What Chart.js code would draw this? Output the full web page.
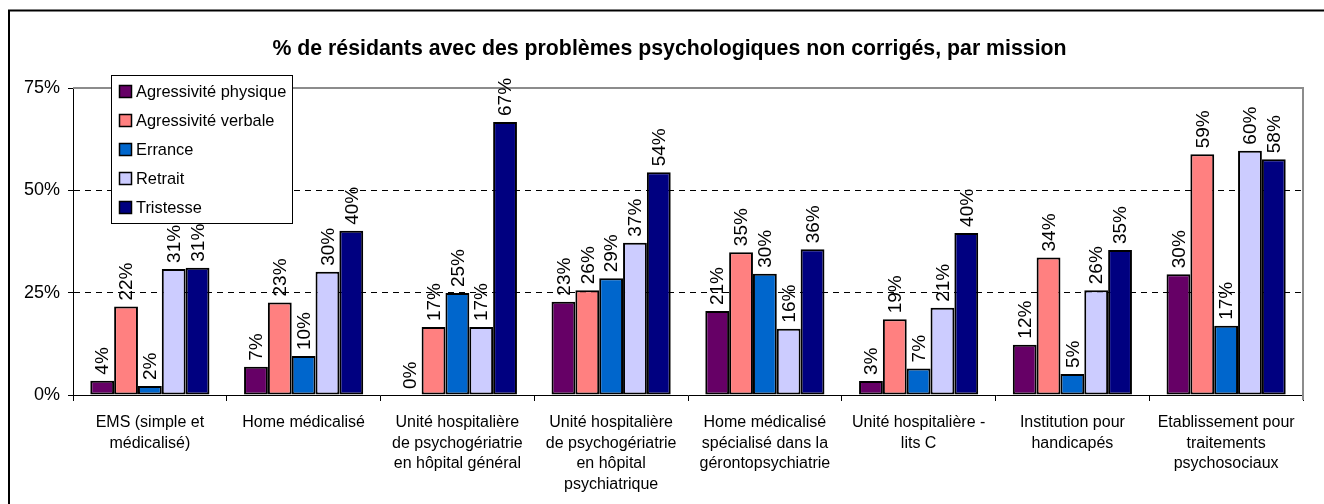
<!DOCTYPE html>
<html>
<head>
<meta charset="utf-8">
<script src="https://cdn.jsdelivr.net/npm/chart.js@4.4.1/dist/chart.umd.min.js"></script>
<style>
  html, body { margin: 0; padding: 0; background: #fff; }
  #wrap { width: 1324px; height: 504px; position: relative; }
</style>
</head>
<body>
<div id="wrap"><canvas id="c" width="1324" height="504"></canvas></div>
<script>
// ---- data ----
const categories = [
  ['EMS (simple et', 'médicalisé)'],
  ['Home médicalisé'],
  ['Unité hospitalière', 'de psychogériatrie', 'en hôpital général'],
  ['Unité hospitalière', 'de psychogériatrie', 'en hôpital', 'psychiatrique'],
  ['Home médicalisé', 'spécialisé dans la', 'gérontopsychiatrie'],
  ['Unité hospitalière -', 'lits C'],
  ['Institution pour', 'handicapés'],
  ['Etablissement pour', 'traitements', 'psychosociaux']
];
const seriesNames = ['Agressivité physique', 'Agressivité verbale', 'Errance', 'Retrait', 'Tristesse'];
const agressivitePhysique = [3.5, 6.9, 0, 22.8, 20.5, 3.4, 12.3, 29.5];
const agressiviteVerbale  = [21.6, 22.6, 16.6, 25.6, 34.9, 18.5, 33.6, 58.8];
const errance             = [2.2, 9.5, 24.9, 28.5, 29.6, 6.5, 5.1, 16.9];
const retrait             = [30.8, 30.1, 16.6, 37.2, 16.2, 21.3, 25.6, 59.7];
const tristesse           = [31.1, 40.1, 66.7, 54.4, 35.6, 39.6, 35.4, 57.6];
const yTicks = [0, 25, 50, 75];
const titleText = '% de résidants avec des problèmes psychologiques non corrigés, par mission';

const colors = ['#660066', '#FF8080', '#0066CC', '#CCCCFF', '#000080'];
const seriesValues = [agressivitePhysique, agressiviteVerbale, errance, retrait, tristesse];

const SANS = "'Liberation Sans', Arial, Helvetica, sans-serif";
const NARROW = "'Liberation Sans Narrow', 'Arial Narrow', 'Liberation Sans', Arial, sans-serif";

const datasets = seriesNames.map((name, i) => ({
  label: name,
  data: seriesValues[i],
  backgroundColor: colors[i],
  borderColor: '#000',
  borderWidth: (ctx) => (ctx.raw === 0 ? 0 : 2),
  borderSkipped: false,
  categoryPercentage: 0.775,
  barPercentage: 1.0
}));

const bgPlugin = {
  id: 'bg',
  beforeDraw(chart) {
    const ctx = chart.ctx;
    ctx.save();
    ctx.fillStyle = '#fff';
    ctx.fillRect(0, 0, chart.width, chart.height);
    ctx.strokeStyle = '#000';
    ctx.lineWidth = 2;
    ctx.beginPath();
    ctx.moveTo(9, chart.height + 2);
    ctx.lineTo(9, 10.5);
    ctx.lineTo(chart.width + 2, 10.5);
    ctx.stroke();
    // title
    ctx.fillStyle = '#000';
    ctx.font = "bold 21.3px " + SANS;
    ctx.textAlign = 'center';
    ctx.textBaseline = 'alphabetic';
    ctx.fillText(titleText, 669.5, 54.5);
    ctx.restore();
  },
  beforeDatasetsDraw(chart) {
    const ctx = chart.ctx, a = chart.chartArea;
    ctx.save();
    ctx.strokeStyle = '#8c8c8c';
    ctx.lineWidth = 2;
    ctx.beginPath();
    ctx.moveTo(a.left, a.top);
    ctx.lineTo(a.right, a.top);
    ctx.lineTo(a.right, a.bottom + 5);
    ctx.stroke();
    ctx.restore();
  }
};

const labelPlugin = {
  id: 'valueLabels',
  afterDatasetsDraw(chart) {
    const ctx = chart.ctx;
    ctx.save();
    ctx.fillStyle = '#000';
    ctx.font = "19px " + NARROW;
    chart.data.datasets.forEach((ds, i) => {
      const meta = chart.getDatasetMeta(i);
      meta.data.forEach((bar, j) => {
        const v = ds.data[j];
        ctx.save();
        ctx.translate(bar.x + 1, bar.y - 6);
        ctx.rotate(-Math.PI / 2);
        ctx.textAlign = 'left';
        ctx.textBaseline = 'middle';
        ctx.fillText(Math.round(v) + '%', 0, 0);
        ctx.restore();
      });
    });
    ctx.restore();
  }
};

const legendPlugin = {
  id: 'boxLegend',
  afterDraw(chart) {
    const ctx = chart.ctx;
    const x = 111, y = 75, w = 181, h = 148;
    ctx.save();
    ctx.fillStyle = '#fff';
    ctx.fillRect(x, y, w, h);
    ctx.strokeStyle = '#000';
    ctx.lineWidth = 1;
    ctx.strokeRect(x + 0.5, y + 0.5, w, h);
    ctx.font = "16.4px " + SANS;
    ctx.textBaseline = 'middle';
    ctx.textAlign = 'left';
    chart.data.datasets.forEach((ds, i) => {
      const cy = 91.5 + i * 29;
      ctx.fillStyle = ds.backgroundColor;
      ctx.fillRect(119.5, cy - 6, 12, 12);
      ctx.strokeStyle = '#000';
      ctx.lineWidth = 1.5;
      ctx.strokeRect(119.5, cy - 6, 12, 12);
      ctx.fillStyle = '#000';
      ctx.fillText(ds.label, 136, cy + 1);
    });
    ctx.restore();
  }
};

new Chart(document.getElementById('c'), {
  type: 'bar',
  data: { labels: categories, datasets },
  plugins: [bgPlugin, labelPlugin, legendPlugin],
  options: {
    responsive: false,
    devicePixelRatio: 1,
    animation: false,
    layout: { padding: { left: 0, right: 21, top: 88, bottom: 0 } },
    plugins: {
      legend: { display: false },
      tooltip: { enabled: false },
      title: { display: false }
    },
    scales: {
      x: {
        grid: {
          offset: true,
          drawOnChartArea: false,
          drawTicks: true,
          tickLength: 6,
          tickColor: '#000',
          tickWidth: 1
        },
        border: { color: '#000', width: 1 },
        ticks: {
          color: '#000',
          font: { family: NARROW, size: 16, lineHeight: 1.3 },
          maxRotation: 0,
          autoSkip: false,
          padding: 11
        },
        afterFit(scale) { scale.height = 109; }
      },
      y: {
        min: 0,
        max: 75,
        afterBuildTicks(scale) { scale.ticks = yTicks.map(v => ({ value: v })); },
        ticks: {
          color: '#000',
          font: { family: SANS, size: 18 },
          padding: 8,
          callback: (v) => v + '%'
        },
        grid: {
          color: (ctx) => (ctx.tick && (ctx.tick.value === 25 || ctx.tick.value === 50)) ? '#000' : 'rgba(0,0,0,0)',
          lineWidth: 1,
          tickColor: '#000',
          tickLength: 5,
          drawTicks: true
        },
        border: { color: '#000', width: 1, dash: [6, 5] },
        afterFit(scale) { scale.width = 73; }
      }
    }
  }
});
</script>
</body>
</html>
